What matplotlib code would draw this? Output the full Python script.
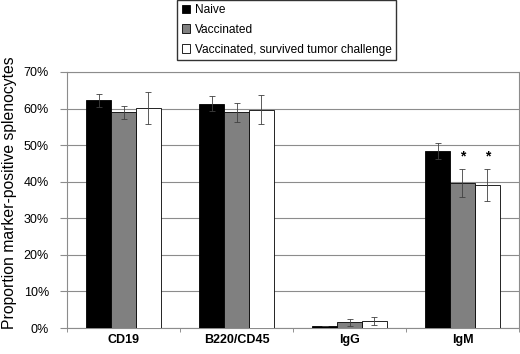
import numpy as np
import matplotlib
matplotlib.use("Agg")
import matplotlib.pyplot as plt
from matplotlib.ticker import PercentFormatter, MultipleLocator, FixedLocator

plt.rcParams['font.family'] = ['Liberation Sans', 'DejaVu Sans']

markers = ['CD19', 'B220/CD45', 'IgG', 'IgM']
groups = ['Naive', 'Vaccinated', 'Vaccinated, survived tumor challenge']
colors = ['#000000', '#808080', '#ffffff']

naive = [62.3, 61.3, 0.5, 48.3]
naive_err = [1.8, 2.0, 0.0, 2.2]
vacc = [59.0, 59.0, 1.6, 39.7]
vacc_err = [1.8, 2.6, 1.0, 3.9]
surv = [60.2, 59.7, 1.9, 39.1]
surv_err = [4.3, 4.0, 1.0, 4.5]
stars = [(3, 1), (3, 2)]  # (marker index, group index)

values = [naive, vacc, surv]
errors = [naive_err, vacc_err, surv_err]

fig = plt.figure(figsize=(5.2, 3.54), dpi=100)
ax = fig.add_axes([0.129, 0.0734, 0.869, 0.7233])

x = np.arange(len(markers))
w = 0.22
for i in range(3):
    ax.bar(x + (i - 1) * w, values[i], w, color=colors[i], edgecolor='black',
           linewidth=0.6, label=groups[i], zorder=3)
    ax.errorbar(x + (i - 1) * w, values[i], yerr=errors[i], fmt='none',
                ecolor='#404040', elinewidth=0.6, capsize=2, capthick=0.6, zorder=4)

for m, g in stars:
    ax.text(x[m] + (g - 1) * w, 47.0, '*', ha='center', va='center',
            fontsize=10, fontweight='bold')

ax.set_xlim(-0.5, len(markers) - 0.5)
ax.set_ylim(0, 70)
ax.yaxis.set_major_locator(MultipleLocator(10))
ax.yaxis.set_major_formatter(PercentFormatter(decimals=0))
ax.grid(axis='y', color='#8c8c8c', linewidth=0.8, zorder=0)
ax.set_xticks(x)
ax.set_xticklabels(markers, fontweight='bold', fontsize=9)
ax.xaxis.set_minor_locator(FixedLocator(np.arange(-0.5, len(markers), 1)))
ax.tick_params(axis='x', which='major', length=0, pad=4)
ax.tick_params(axis='x', which='minor', length=3, color='#808080')
ax.tick_params(axis='y', length=5, color='#8c8c8c', labelsize=9, pad=8)
for s in ax.spines.values():
    s.set_color('#8c8c8c')
    s.set_linewidth(0.8)
ax.set_ylabel('Proportion marker-positive splenocytes', fontsize=11.3)
ax.yaxis.set_label_coords(-0.11, 0.53)

leg = fig.legend(loc='upper center', bbox_to_anchor=(0.551, 1.0), fontsize=8.6,
                 frameon=True, fancybox=False, edgecolor='black', handlelength=0.75,
                 handleheight=0.75, handletextpad=0.35, labelspacing=0.65,
                 borderpad=0.35, borderaxespad=0.0)
leg.get_frame().set_linewidth(1.0)

fig.savefig('out.png', dpi=100)
